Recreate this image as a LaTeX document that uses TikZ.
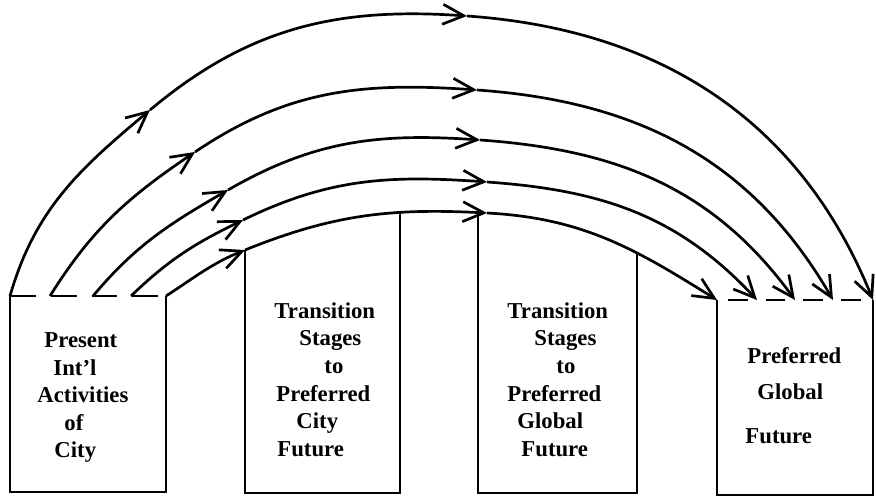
\documentclass[tikz,border=0pt]{standalone}
\usepackage{fontspec}
\setmainfont{Liberation Serif}
\usetikzlibrary{arrows.meta}

\begin{document}
\begin{tikzpicture}[x=1.5cm,y=1.5cm,
  flow/.style={line width=1.15pt,-{Straight Barb[length=9pt,width=8.5pt]}},
  box/.style={line width=1.15pt},
  lid/.style={line width=1.15pt,dash pattern=on 11pt off 6.4pt},
  txt/.style={anchor=north west,inner sep=0pt,align=left,font=\bfseries\fontsize{9.7}{11.8}\selectfont}]
\useasboundingbox (0,0) rectangle (8.76,4.98);
% start and end of the arcs on the dashed lids
\coordinate (s1) at (0.10,2.02);
\coordinate (s2) at (0.50,2.02);
\coordinate (s3) at (0.93,2.02);
\coordinate (s4) at (1.31,2.02);
\coordinate (s5) at (1.66,2.02);
\coordinate (e1) at (8.73,1.98);
\coordinate (e2) at (8.33,1.98);
\coordinate (e3) at (7.95,1.98);
\coordinate (e4) at (7.57,1.98);
\coordinate (e5) at (7.17,1.98);
% arrow points on the way up and at the top
\coordinate (a1) at (1.50,3.88);
\coordinate (a2) at (1.95,3.46);
\coordinate (a3) at (2.28,3.08);
\coordinate (a4) at (2.43,2.78);
\coordinate (a5) at (2.45,2.48);
\coordinate (m1) at (4.67,4.82);
\coordinate (m2) at (4.77,4.08);
\coordinate (m3) at (4.80,3.58);
\coordinate (m4) at (4.87,3.16);
\coordinate (m5) at (4.87,2.85);
\coordinate (g3) at (4.78,2.85);
\foreach \i/\so/\ao/\mo/\ei in {1/74/40/-4/112,2/58/34/-4/120,3/50/30/-4/126,4/44/26/-4/133,5/33/22/-3/148}{
  \pgfmathtruncatemacro\ai{\ao+180}
  \pgfmathtruncatemacro\mi{\mo+180}
  \draw[flow] (s\i) to[out=\so,in=\ai] (a\i);
  \draw[flow] (a\i) to[out=\ao,in=\mi] coordinate[pos=0.66] (u\i) (m\i);
  \draw[flow] (m\i) to[out=\mo,in=\ei] coordinate[pos=0.64] (v\i) (e\i);
}
% boxes
\draw[lid] (s1) -- (s5);
\draw[box] (s1) -- (s1 |- 0,0.06) -| (s5);
\draw[box] (a5) -- (a5 |- 0,0.05) -| (u5);
\draw[box] (g3) -- (g3 |- 0,0.05) -| (v5);
\draw[lid,dash pattern=on 8.5pt off 7.6pt,dash phase=11.5pt] (e5) -- (e1);
\draw[box] (e5) -- (e5 |- 0,0.03) -| (e1);
\node[txt] (present) at (0.37,1.66) {\hspace*{0.105cm}Present\\\hspace*{0.24cm}Int'l\\Activities\\\hspace*{0.405cm}of\\\hspace*{0.255cm}City};
\node[txt] (citystages) at (2.74,1.96) {Transition\\\hspace*{0.375cm}Stages\\\hspace*{0.75cm}to\\\hspace*{0.03cm}Preferred\\\hspace*{0.33cm}City\\\hspace*{0.045cm}Future};
\node[txt] (globalstages) at (5.07,1.96) {Transition\\\hspace*{0.405cm}Stages\\\hspace*{0.735cm}to\\Preferred\\\hspace*{0.15cm}Global\\\hspace*{0.21cm}Future};
\node[txt] (globalfuture) at (7.45,1.51) {\hspace*{0.03cm}Preferred\\[3.5pt]\hspace*{0.18cm}Global\\[6.9pt]Future};
\end{tikzpicture}
\end{document}
